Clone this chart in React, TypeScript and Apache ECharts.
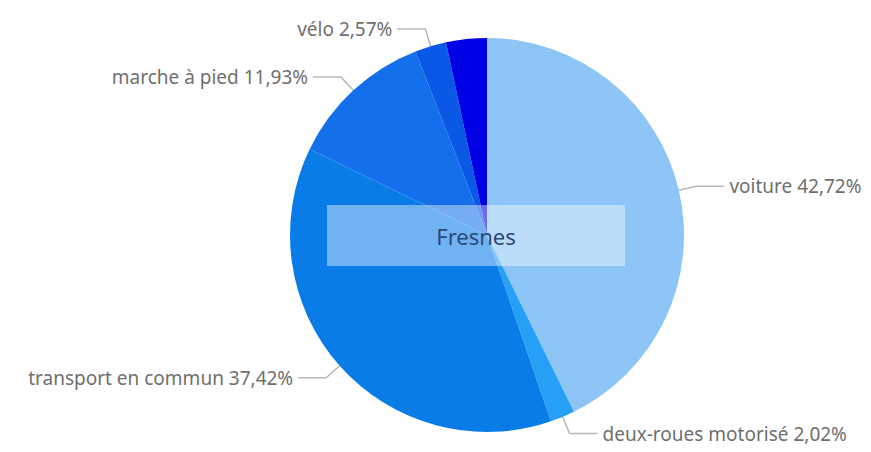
import React, { useEffect, useRef } from "react";
import * as echarts from "echarts";

const categories = ["voiture", "deux-roues motorisé", "transport en commun", "marche à pied", "vélo", "autre"];
const shares = [42.72, 2.02, 37.42, 11.93, 2.57, 3.34];
const colors = ["#8cc5f6", "#25a0f4", "#0a7ce8", "#1470ea", "#0a58e6", "#0000e4"];
const showLabel = [true, true, true, true, true, false];
const centerTitle = "Fresnes";

export default function App() {
  const ref = useRef<HTMLDivElement>(null);
  useEffect(() => {
    if (!ref.current) return;
    const chart = echarts.init(ref.current, null, { renderer: "svg" });
    chart.setOption({
      animation: false,
      backgroundColor: "#ffffff",
      series: [
        {
          type: "pie",
          center: [487, 235],
          radius: 197,
          startAngle: 90,
          clockwise: true,
          avoidLabelOverlap: false,
          label: {
            color: "#6f6f6f",
            fontFamily: "Noto Sans, sans-serif",
            fontSize: 19,
            formatter: (p: any) => `${p.name} ${p.value.toFixed(2).replace(".", ",")}%`,
          },
          labelLine: {
            length: 18,
            length2: 28,
            lineStyle: { color: "#b8b8b8", width: 1.5 },
          },
          itemStyle: { borderWidth: 0 },
          emphasis: { disabled: true },
          data: categories.map((c, i) => ({
            name: c,
            value: shares[i],
            itemStyle: { color: colors[i] },
            label: { show: showLabel[i] },
            labelLine: { show: showLabel[i] },
          })),
        },
      ],
      graphic: [
        {
          type: "rect",
          shape: { x: 327, y: 205, width: 298, height: 61 },
          style: { fill: "rgba(255,255,255,0.42)" },
          z: 100,
        },
        {
          type: "text",
          x: 476,
          y: 236,
          style: {
            text: centerTitle,
            fill: "#2a4878",
            font: "22px 'Noto Sans', sans-serif",
            textAlign: "center",
            textVerticalAlign: "middle",
          },
          z: 101,
        },
      ],
    });
    return () => chart.dispose();
  }, []);
  return <div ref={ref} style={{ width: 871, height: 452, position: "absolute", left: 0, top: 0 }} />;
}
